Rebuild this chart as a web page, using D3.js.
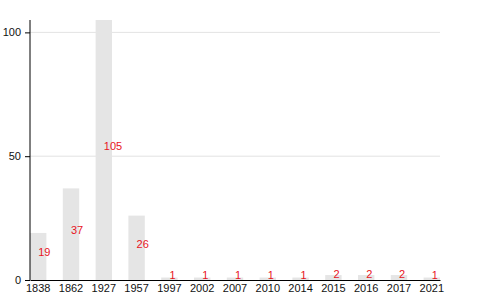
<!DOCTYPE html>
<html>
<head>
<meta charset="utf-8">
<script src="https://cdn.jsdelivr.net/npm/d3@7"></script>
<style>
  body { margin: 0; background: #fff; }
  svg text { font-family: "Liberation Sans", Arial, sans-serif; }
</style>
</head>
<body>
<div id="chart"></div>
<script>
// the data
var years = ['1838', '1862', '1927', '1957', '1997', '2002', '2007', '2010', '2014', '2015', '2016', '2017', '2021'];
var counts = [19, 37, 105, 26, 1, 1, 1, 1, 1, 2, 2, 2, 1];
var yTicks = [0, 50, 100];

var svgWidth = 480;
var svgHeight = 300;

var chartMargin = {
    top: 20,
    right: 40,
    bottom: 20,
    left: 30
};

var chartWidth = svgWidth - chartMargin.left - chartMargin.right;
var chartHeight = svgHeight - chartMargin.top - chartMargin.bottom;

var svg = d3.select('#chart')
    .append('svg')
    .attr('width', svgWidth)
    .attr('height', svgHeight);

var chartGroup = svg.append('g')
    .attr('transform', `translate(${chartMargin.left}, ${chartMargin.top})`);

var data = years.map((y, i) => ({year: y, count: counts[i]}));

var xScale = d3.scaleBand()
    .domain(years)
    .range([0, chartWidth])
    .paddingInner(0.5)
    .paddingOuter(0);

var yScale = d3.scaleLinear()
    .domain([0, 105])
    .range([chartHeight, 0]);

// gridlines first so the bars sit on top
chartGroup.append('g')
    .selectAll('line')
    .data(yTicks.filter(t => t > 0))
    .enter()
    .append('line')
    .attr('x1', 0)
    .attr('x2', chartWidth)
    .attr('y1', d => yScale(d))
    .attr('y2', d => yScale(d))
    .attr('stroke', '#e3e3e3')
    .attr('stroke-width', 1);

chartGroup.append('g')
    .selectAll('rect')
    .data(data)
    .enter()
    .append('rect')
    .attr('x', d => xScale(d.year))
    .attr('y', d => yScale(d.count))
    .attr('width', xScale.bandwidth())
    .attr('height', d => chartHeight - yScale(d.count))
    .attr('fill', '#e5e5e5');

// value labels, starting at the middle of each bar
chartGroup.append('g')
    .selectAll('text')
    .data(data)
    .enter()
    .append('text')
    .attr('x', d => xScale(d.year) + xScale.bandwidth() / 2)
    .attr('y', d => (yScale(d.count) + chartHeight) / 2)
    .attr('fill', '#e8141e')
    .attr('font-size', '11px')
    .text(d => d.count);

var bottomAxis = d3.axisBottom(xScale).tickSize(0).tickPadding(4);
var leftAxis = d3.axisLeft(yScale).tickValues(yTicks).tickSize(5).tickPadding(4);

var xAxisG = chartGroup.append('g')
    .attr('transform', `translate(0, ${chartHeight})`)
    .call(bottomAxis);

var yAxisG = chartGroup.append('g')
    .call(leftAxis);

[xAxisG, yAxisG].forEach(function(g) {
    g.selectAll('text').attr('font-size', '11px').attr('fill', '#111').style('font-family', '"Liberation Sans", Arial, sans-serif');
    g.select('.domain').attr('stroke', '#000');
    g.selectAll('.tick line').attr('stroke', '#000');
});
yAxisG.select('.domain').attr('d', `M0,${chartHeight}V0`);
</script>
</body>
</html>
